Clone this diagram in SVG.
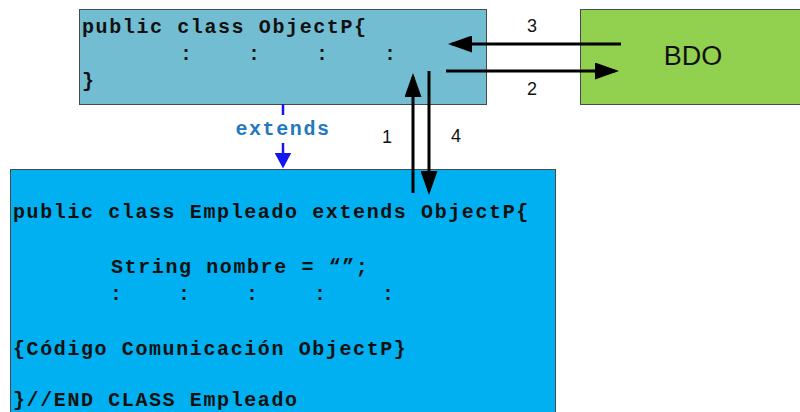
<svg xmlns="http://www.w3.org/2000/svg" width="800" height="412" viewBox="0 0 800 412">
<style>
.code{font-family:"Liberation Mono","Courier New",monospace;font-weight:bold;font-size:20px;letter-spacing:1.6px;white-space:pre;fill:#111}
.num{font-family:"Liberation Sans",Arial,sans-serif;font-size:18px;fill:#111}
.box{stroke:#444c50;stroke-width:1}
.arrow{stroke:#000;stroke-width:3;fill:none;marker-end:url(#ah)}
.ext{stroke:#1515f0;stroke-width:2.5;fill:none}
</style>
<defs>
<marker id="ah" viewBox="0 0 24 17" refX="20" refY="8.5" markerWidth="24" markerHeight="17" markerUnits="userSpaceOnUse" orient="auto">
<path d="M0,0 L24,8.5 L0,17 Z" fill="#000"/>
</marker>
<marker id="bh" viewBox="0 0 16 17" refX="12" refY="8.5" markerWidth="16" markerHeight="17" markerUnits="userSpaceOnUse" orient="auto">
<path d="M0,0 L16,8.5 L0,17 Z" fill="#1515f0"/>
</marker>
</defs>
<g id="objectp">
<rect class="box" x="79.5" y="9.5" width="407" height="95" fill="#72bdd2"/>
<text class="code" x="82" y="33">public class ObjectP{</text>
<text class="code" x="180" y="60">:    :    :    :</text>
<text class="code" x="82" y="87">}</text>
</g>
<g id="bdo">
<rect class="box" x="580.5" y="9.5" width="225" height="95" fill="#92d050"/>
<text x="693" y="65" text-anchor="middle" style="font-family:'Liberation Sans',Arial,sans-serif;font-size:27px;fill:#111">BDO</text>
</g>
<g id="empleado">
<rect class="box" x="10.5" y="169.5" width="545" height="250" fill="#00b0f0"/>
<text class="code" x="13" y="218">public class Empleado extends ObjectP{</text>
<text class="code" x="111" y="273">String nombre = “”;</text>
<text class="code" x="110" y="300">:    :    :    :    :</text>
<text class="code" x="13" y="355">{Código Comunicación ObjectP}</text>
<text class="code" x="13" y="406">}//END CLASS Empleado</text>
</g>
<g id="connectors">
<path class="arrow" d="M621,44 L452,44"/>
<path class="arrow" d="M446,71 L615,71"/>
<path class="arrow" d="M413,193 L413,77"/>
<path class="arrow" d="M429,71 L429,191"/>
<path class="ext" d="M283,104 L283,115"/>
<path class="ext" d="M283,143 L283,164.5" style="marker-end:url(#bh)"/>
<text class="code" x="283" y="135" text-anchor="middle" style="fill:#1f78c0">extends</text>
<text class="num" x="532" y="32" text-anchor="middle">3</text>
<text class="num" x="532" y="95" text-anchor="middle">2</text>
<text class="num" x="387" y="143" text-anchor="middle">1</text>
<text class="num" x="456" y="142" text-anchor="middle">4</text>
</g>
</svg>
